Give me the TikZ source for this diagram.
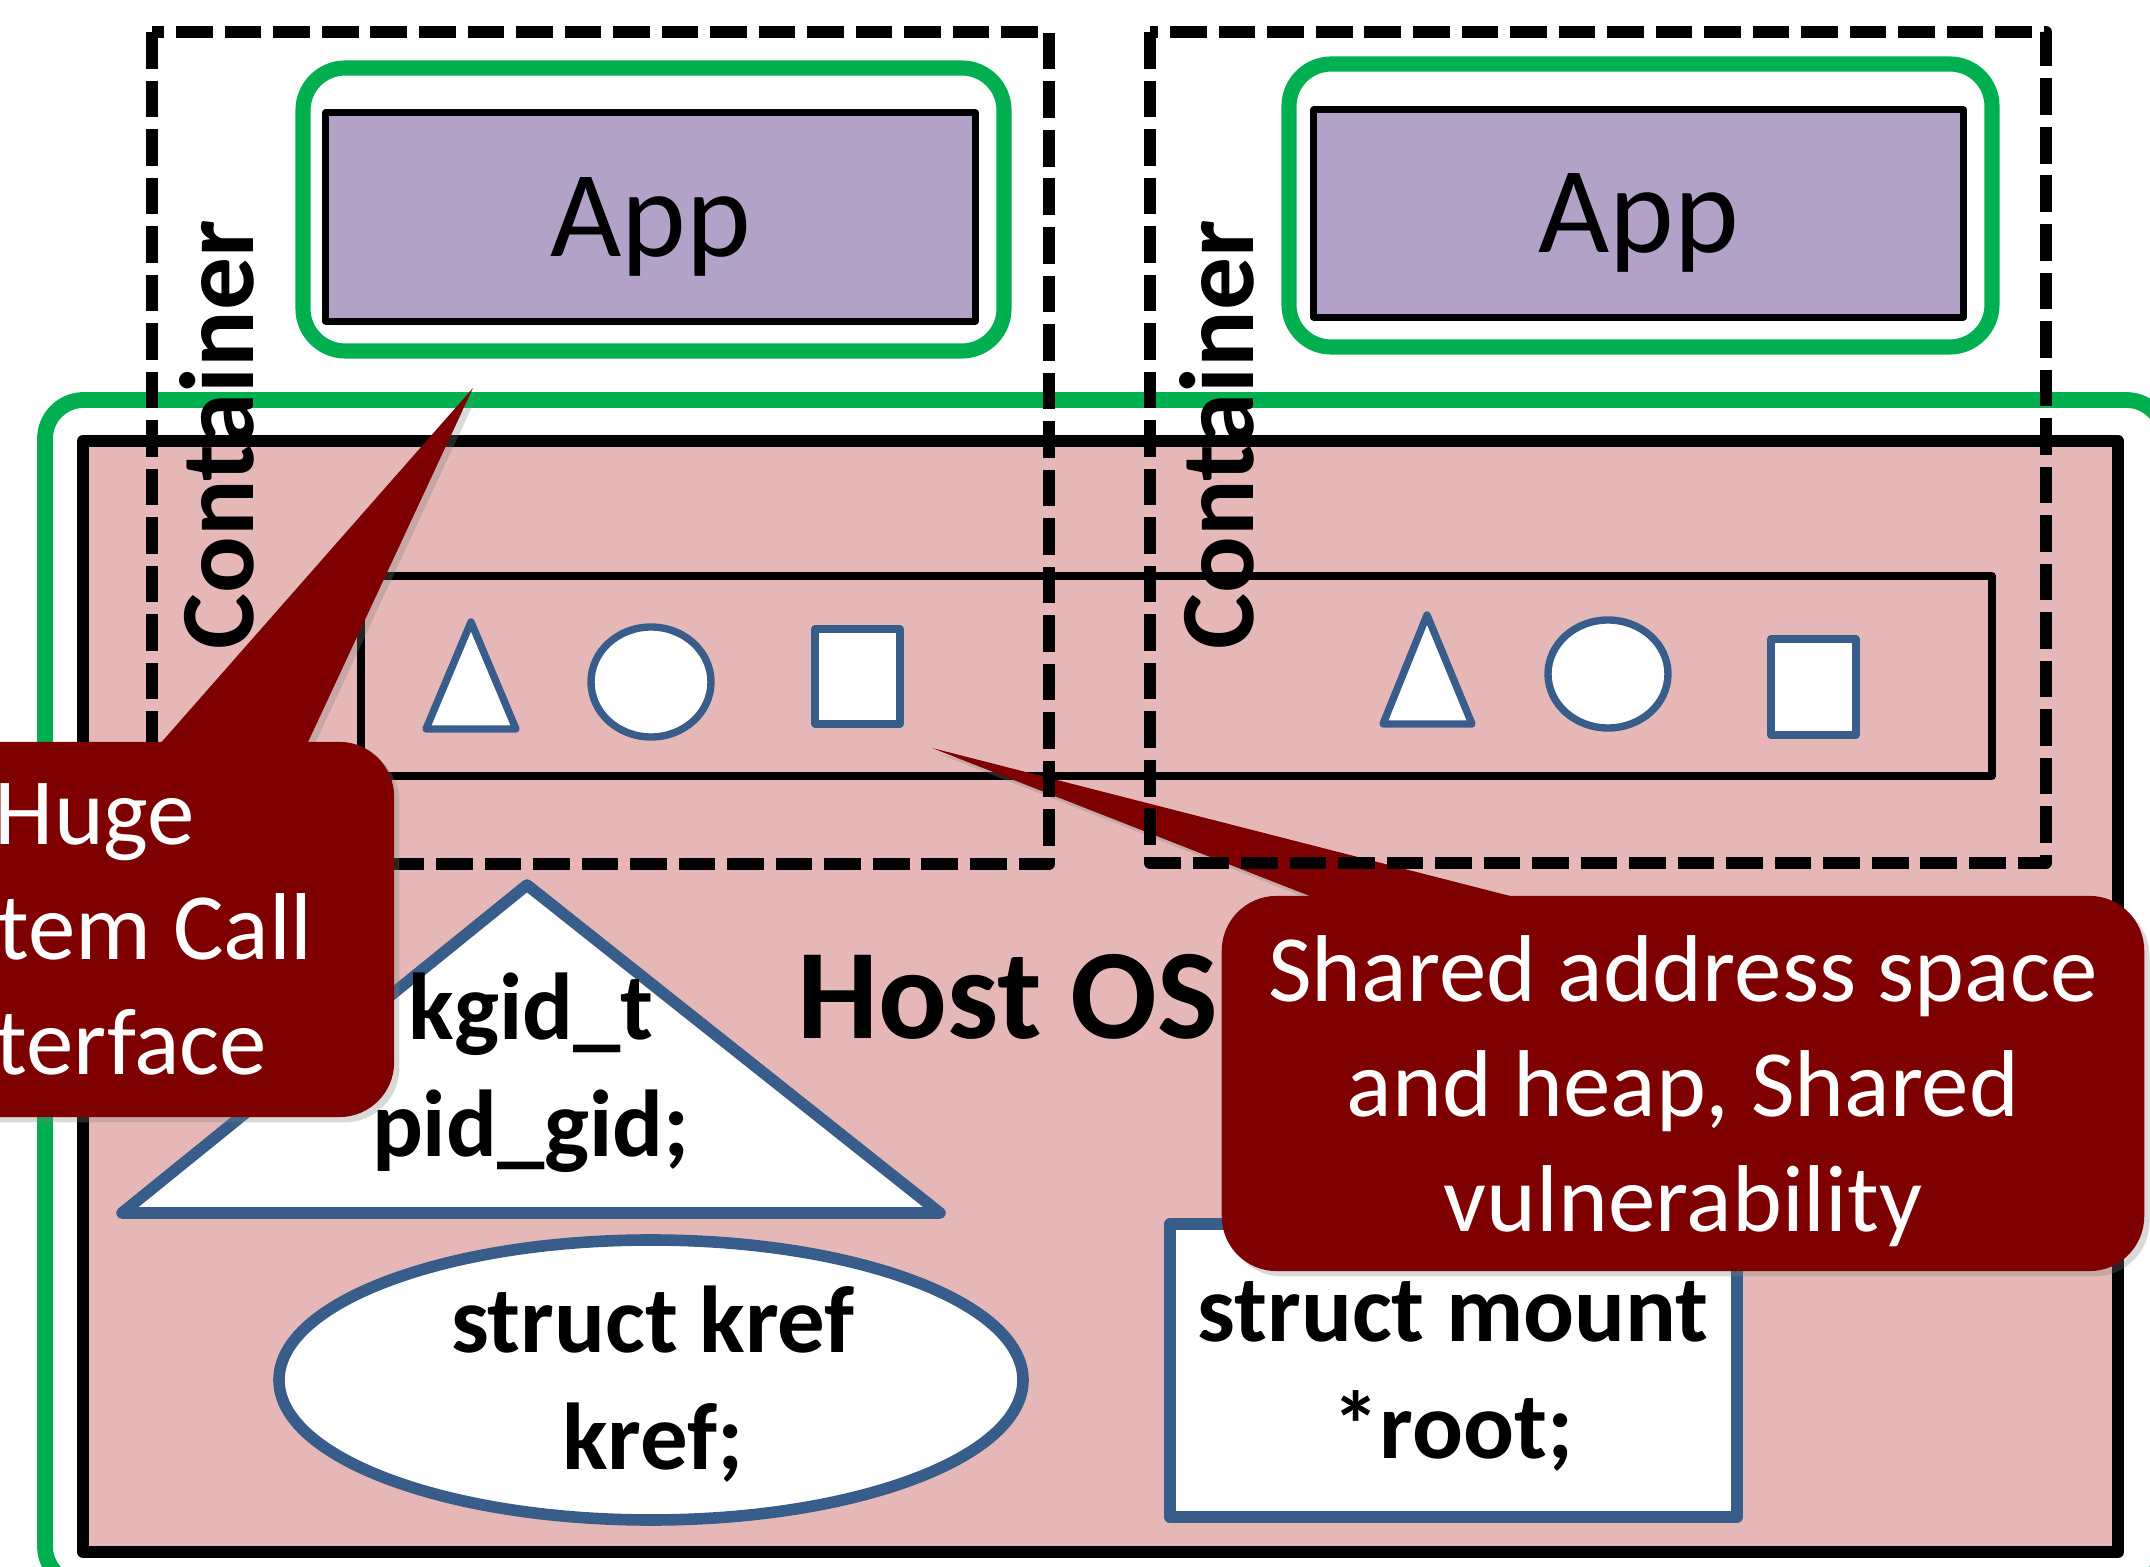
\documentclass[tikz,border=0pt]{standalone}
\usepackage{fontspec}
\setmainfont{Carlito}
\usetikzlibrary{positioning,shadows}

\definecolor{appgreen}{HTML}{00B050}
\definecolor{applilac}{HTML}{B3A2C7}
\definecolor{ospink}{HTML}{E5B8B7}
\definecolor{objblue}{HTML}{385D8A}
\definecolor{notered}{HTML}{7F0000}

\begin{document}
\begin{tikzpicture}[x=0.01cm, y=-0.01cm, line join=round,
    ctr/.style={draw=black, line width=3.4pt, dash pattern=on 10.4pt off 3.4pt},
    sandbox/.style={draw=appgreen, line width=4.3pt, rounded corners=12pt},
    app/.style={draw=black, line width=2pt, fill=applilac, inner sep=0pt, text depth=0pt,
                font=\fontsize{35}{42}\selectfont},
    obj/.style={draw=objblue, line width=2.1pt, fill=white},
    bigobj/.style={draw=objblue, line width=3.3pt, fill=white},
    code/.style={font=\bfseries\fontsize{27}{33}\selectfont, align=center, inner sep=0pt},
    shade/.style={drop shadow={shadow xshift=1.5pt, shadow yshift=-1.5pt, opacity=.3}}]
  \tikzstyle{note}=[fill=notered, text=white, rounded corners=15.6pt, align=center,
                    inner sep=0pt, text depth=0pt, font=\fontsize{27}{32.7}\selectfont, shade]

    \useasboundingbox (0,0) rectangle (2150,1567);
    \clip (0,0) rectangle (2150,1567);

    % host kernel
    \draw[draw=appgreen, line width=4.5pt, rounded corners=11pt] (45,400) rectangle (2165,1585);
    \draw[line width=3.3pt, fill=ospink] (83,441) rectangle (2118,1552);
    \draw[line width=2pt] (361,576) rectangle (1992,776);

    \draw[obj] (426,729) -- (471,622) -- (516,729) -- cycle;
    \draw[obj] (651,682) ellipse [x radius=60, y radius=55];
    \draw[obj] (815,629) rectangle (900,724);
    \draw[obj] (1383,724) -- (1427,615) -- (1472,724) -- cycle;
    \draw[obj] (1608,674) ellipse [x radius=60, y radius=54];
    \draw[obj] (1771,639) rectangle (1856,735);

    \draw[bigobj] (122,1213) -- (527,885) -- (940,1213) -- cycle;
    \draw[bigobj] (651,1380) ellipse [x radius=372, y radius=140];
    \draw[bigobj] (1170,1224) rectangle (1737,1517);

    % base = last line
    \node[code, anchor=base] (kgid)  at (531,1156)  {kgid\_t\\pid\_gid;};
    \node[code, anchor=base] (kref)  at (653,1469)  {struct kref\\kref;};
    \node[code, anchor=base] (mount) at (1453,1458) {struct mount\\*root;};
    \node[font=\bfseries\fontsize{36.5}{42}\selectfont, anchor=base] (host) at (1008,1038) {Host OS};

    % callout under the containers
    \coordinate (sharedtip) at (932,748);
    \fill[notered, shade] (sharedtip) -- (1371,920) -- (1604,920) -- cycle;
    \node[note, minimum width=9.22cm, minimum height=3.75cm] (shared) at (1683,1083.5)
        {Shared address space\\and heap, Shared\\vulnerability};

    % containers
    \draw[ctr] (152,32) rectangle (1049,864);
    \draw[ctr] (1150,32) rectangle (2046,863);
    \draw[sandbox] (303,68) rectangle (1004,351);
    \draw[sandbox] (1289,64) rectangle (1992,347);
    \node[app, minimum width=6.49cm, minimum height=2.08cm] (appl) at (650.5,217) {App};
    \node[app, minimum width=6.49cm, minimum height=2.07cm] (appr) at (1638.5,213.5) {App};
    \node[rotate=90, anchor=base, font=\bfseries\fontsize{30}{36}\selectfont] (ctrl) at (253,435) {Container};
    \node[rotate=90, anchor=base, font=\bfseries\fontsize{30}{36}\selectfont] (ctrr) at (1253,435) {Container};

    % callout over the left container
    \coordinate (hugetip) at (473,388);
    \fill[notered, shade] (hugetip) -- (137,770) -- (295,770) -- cycle;
    \node[note, minimum width=5.98cm, minimum height=3.75cm] (huge) at (95,929.5)
        {Huge\\System Call\\Interface};

\end{tikzpicture}
\end{document}
